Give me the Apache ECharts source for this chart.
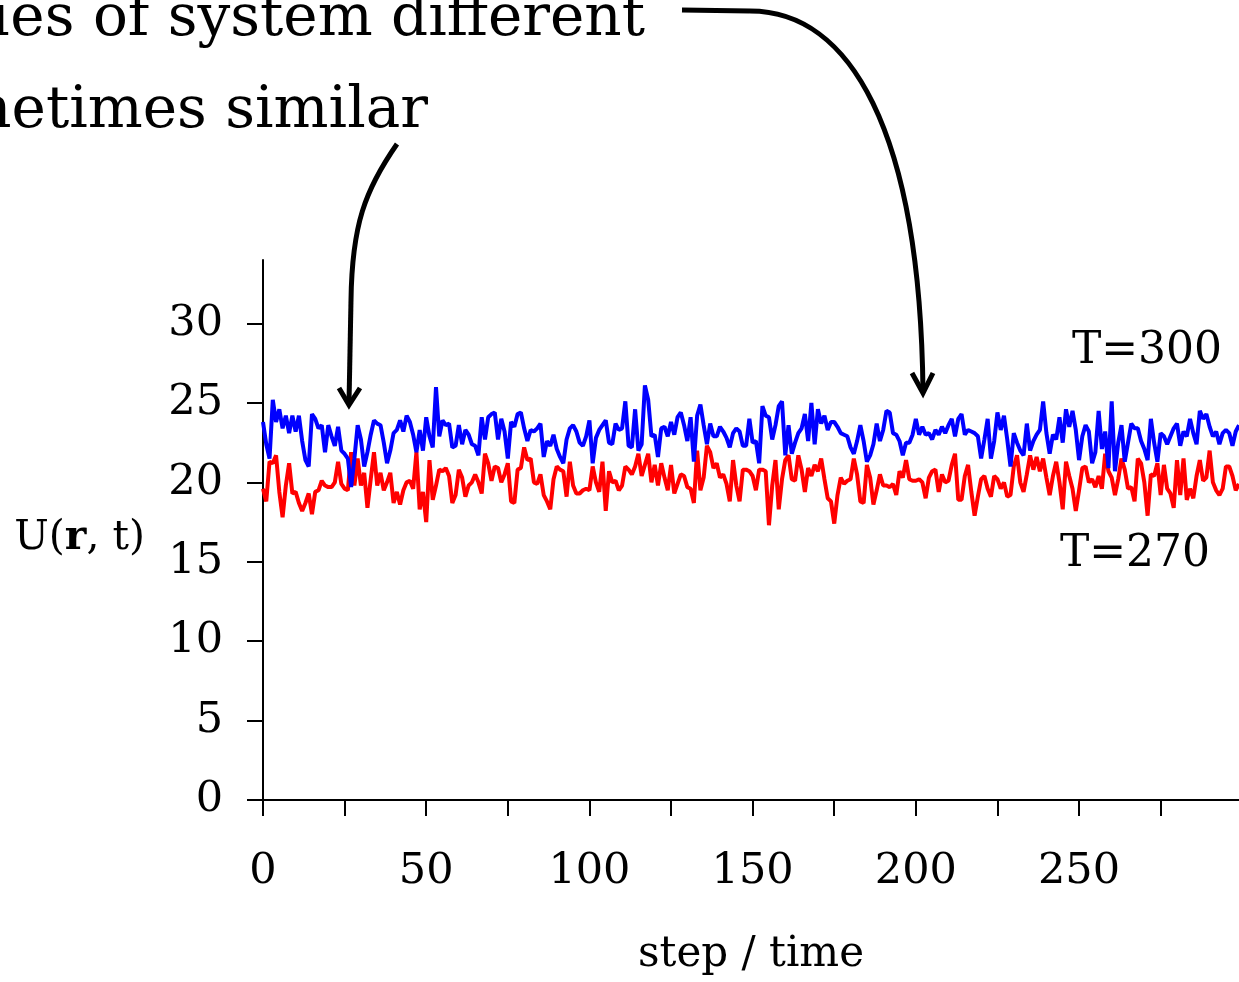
<!DOCTYPE html>
<html lang="en">
<head>
    <meta charset="UTF-8">
    <title>U(r, t)</title>
    <script src="https://cdn.jsdelivr.net/npm/echarts@6/dist/echarts.min.js"></script>
</head>
<style>
    *{
        margin: 0;
        padding: 0;
    }
    html,body{
        width: 100%;
        height: 100%;
        overflow: hidden;
        background: #fff;
    }
    .container{
        width: 1239px;
        height: 982px;
    }
</style>
<body>
<div class="container"></div>
<script>
    // U(r, t) per step
    let u300 = [
        23.8, 22.4, 21.5, 25.2, 23.8, 24.6, 23.4, 24.2, 23.1, 24.2, 23.2, 24.2, 22.6, 21.4, 21.0, 24.3, 24.0, 23.4, 23.6, 21.9,
        23.6, 22.9, 22.3, 23.5, 22.0, 21.8, 21.5, 19.7, 21.5, 23.6, 22.7, 21.0, 21.9, 23.0, 23.9, 23.7, 23.6, 22.5, 21.2, 22.0,
        23.1, 23.3, 23.9, 23.2, 24.2, 23.8, 23.0, 21.9, 23.3, 22.0, 24.1,
        22.9, 22.2, 26.0, 22.9, 23.9, 23.6, 23.7, 22.2, 22.3, 23.6, 22.4, 23.3, 23.0, 22.4, 22.3, 21.7, 24.1, 22.7, 24.1, 24.3,
        24.4, 22.7, 24.0, 23.2, 21.5, 23.8, 23.5, 24.3, 24.4, 23.4, 22.6, 23.3, 23.2, 23.4, 23.7, 21.6, 22.6, 22.3, 23.0, 22.1,
        21.6, 21.2, 22.7, 23.4, 23.6, 23.2, 22.5, 22.3, 22.9, 23.9,
        21.2, 22.8, 23.3, 23.6, 23.9, 22.5, 22.4, 23.7, 23.3, 23.4, 25.1, 22.3, 22.2, 24.6, 22.0, 22.4, 26.1, 25.2, 22.9, 23.0,
        21.6, 23.4, 23.5, 22.9, 23.8, 23.0, 24.1, 24.4, 23.6, 22.6, 24.1, 21.3, 24.2, 24.9, 23.6, 22.4, 23.7, 22.9, 22.9, 23.5,
        23.2, 22.8, 22.2, 23.1, 23.4, 23.2, 22.3, 22.3, 24.0, 22.5,
        22.6, 21.2, 24.8, 24.2, 24.1, 22.7, 23.6, 24.8, 25.1, 21.7, 23.6, 21.8, 22.5, 23.1, 23.4, 24.3, 22.6, 25.0, 22.4, 24.6,
        23.7, 24.2, 23.3, 23.8, 23.8, 23.5, 23.1, 23.0, 22.9, 22.2, 21.8, 22.6, 23.6, 22.6, 21.3, 21.7, 22.4, 23.7, 22.6, 23.3,
        24.5, 24.4, 23.1, 23.0, 22.6, 21.7, 22.5, 22.5, 23.0, 24.0,
        23.0, 23.5, 23.0, 23.1, 22.7, 23.3, 23.0, 23.5, 23.1, 23.6, 24.0, 22.9, 24.0, 24.3, 23.0, 23.3, 23.2, 23.1, 22.9, 21.5,
        22.7, 24.0, 21.5, 22.6, 24.4, 23.3, 24.2, 22.7, 21.0, 23.1, 22.5, 22.0, 21.7, 23.7, 22.0, 22.6, 23.0, 23.3, 25.1, 23.1,
        21.8, 23.0, 22.7, 24.1, 22.5, 24.6, 23.5, 24.5, 23.3,
        21.4, 22.9, 23.6, 23.2, 21.2, 21.9, 24.5, 22.1, 23.2, 20.9, 25.1, 20.7, 22.5, 23.6, 21.3, 22.5, 23.7, 23.4, 23.4, 22.6,
        22.1, 21.4, 24.0, 22.5, 21.3, 23.1, 22.9, 22.4, 22.9, 23.4, 23.7, 22.3, 23.2, 22.9, 24.0, 23.1, 22.4, 24.5, 24.0, 24.3,
        23.5, 22.9, 23.2, 22.4, 23.1, 23.3, 23.1, 22.3, 23.2, 23.6
    ];
    let u270 = [
        19.6, 18.8, 21.3, 21.2, 21.7, 19.4, 17.8, 19.8, 21.2, 19.3, 19.4, 18.7, 18.2, 18.7, 19.3, 18.0, 19.4, 19.5, 20.1, 19.8,
        19.7, 19.7, 20.0, 21.3, 19.9, 19.6, 19.5, 21.9, 19.8, 21.5, 19.8, 20.6, 18.4, 20.2, 21.9, 19.8, 20.6, 19.5, 20.0, 20.6,
        18.7, 19.4, 18.6, 19.5, 20.0, 20.1, 19.6, 21.9, 18.3, 19.4, 17.5,
        21.4, 18.9, 19.8, 20.8, 20.7, 20.9, 20.4, 18.7, 19.2, 20.8, 20.3, 19.1, 19.8, 20.0, 20.5, 20.0, 19.3, 21.8, 21.2, 20.1,
        21.0, 20.9, 20.0, 20.5, 21.2, 18.8, 18.7, 20.8, 20.9, 22.2, 21.4, 21.5, 20.0, 19.9, 20.5, 19.2, 18.8, 18.3, 20.2, 21.0,
        20.8, 20.7, 19.1, 21.3, 19.8, 19.3, 19.3, 19.5, 19.6, 19.5,
        21.0, 20.0, 19.4, 21.3, 18.2, 20.7, 20.0, 20.1, 19.5, 19.8, 21.0, 20.8, 20.5, 21.0, 21.8, 20.4, 21.1, 21.8, 20.0, 21.1,
        19.8, 21.2, 20.3, 19.5, 21.1, 19.3, 19.9, 20.5, 20.4, 19.7, 19.6, 18.7, 22.0, 19.5, 20.3, 22.3, 21.9, 20.9, 21.2, 20.3,
        20.5, 19.9, 18.8, 21.4, 19.8, 18.8, 20.8, 20.8, 20.7, 20.4,
        19.5, 20.8, 20.8, 20.7, 17.3, 19.8, 21.4, 18.3, 20.2, 21.4, 21.7, 20.2, 20.1, 21.7, 20.8, 19.4, 20.9, 20.4, 21.1, 20.7,
        21.5, 20.2, 19.0, 18.8, 17.4, 19.2, 20.3, 19.9, 20.1, 20.2, 21.5, 20.5, 18.8, 18.7, 21.1, 20.3, 18.6, 19.5, 20.5, 19.8,
        19.8, 19.7, 19.9, 19.2, 20.7, 20.3, 21.4, 20.2, 20.1, 20.1,
        20.2, 20.0, 19.0, 20.3, 20.7, 20.8, 19.4, 20.5, 20.0, 20.1, 21.1, 21.8, 18.9, 18.9, 20.4, 21.1, 19.4, 17.9, 19.1, 20.2,
        20.4, 19.6, 19.1, 20.4, 20.2, 19.6, 20.0, 19.1, 19.2, 21.0, 21.7, 20.0, 19.4, 20.5, 21.7, 20.8, 21.6, 20.7, 21.5, 20.3,
        19.2, 20.4, 21.3, 20.0, 18.3, 21.3, 20.4, 19.6, 18.2,
        19.5, 20.9, 21.0, 20.0, 20.2, 19.7, 20.4, 19.6, 21.8, 20.7, 20.3, 19.2, 20.2, 21.5, 20.8, 19.6, 19.7, 18.8, 21.5, 21.2,
        20.0, 17.9, 20.5, 20.4, 21.2, 19.2, 21.1, 19.6, 19.3, 18.4, 21.4, 19.2, 21.5, 18.9, 19.6, 19.0, 20.4, 21.4, 20.1, 20.3,
        22.0, 20.0, 19.5, 19.2, 19.6, 21.0, 21.0, 20.4, 19.5, 19.9
    ];
    let xTicks = [0, 25, 50, 75, 100, 125, 150, 175, 200, 225, 250, 275];
    let xLabels = [0, 50, 100, 150, 200, 250];
    let yTicks = [0, 5, 10, 15, 20, 25, 30];
    let seriesNames = ['T=300', 'T=270'];

    let font = 'DejaVu Serif';
    let container = document.querySelector('.container');
    let mychart = echarts.init(container);

    let toPairs = arr => arr.map((v, i) => [i, v]);

    option = {
        animation: false,
        backgroundColor: '#fff',
        grid: {
            left: 263,
            right: 0,
            top: 260,
            bottom: 182
        },
        xAxis: {
            type: 'value',
            min: 0,
            max: 299,
            name: 'step / time',
            nameLocation: 'middle',
            nameGap: 134,
            nameTextStyle: {fontFamily: font, fontSize: 42, color: '#000'},
            axisLine: {lineStyle: {color: '#000', width: 2}},
            axisTick: {customValues: xTicks, length: 16, lineStyle: {color: '#000', width: 2}},
            axisLabel: {customValues: xLabels, margin: 50, fontFamily: font, fontSize: 43, color: '#000'},
            splitLine: {show: false}
        },
        yAxis: {
            type: 'value',
            min: 0,
            max: 34,
            name: '{n|U(}{b|r}{n|, t)}',
            nameLocation: 'middle',
            nameRotate: 0,
            nameGap: 118,
            nameTextStyle: {
                padding: [16, 0, 0, 0],
                rich: {
                    n: {fontFamily: font, fontSize: 41, color: '#000'},
                    b: {fontFamily: font, fontSize: 41, fontWeight: 'bold', color: '#000'}
                }
            },
            axisLine: {show: true, lineStyle: {color: '#000', width: 2}},
            axisTick: {show: true, customValues: yTicks, length: 16, lineStyle: {color: '#000', width: 2}},
            axisLabel: {customValues: yTicks, margin: 40, fontFamily: font, fontSize: 43, color: '#000'},
            splitLine: {show: false}
        },
        series: [
            {
                name: seriesNames[1],
                type: 'line',
                data: toPairs(u270),
                showSymbol: false,
                lineStyle: {color: '#ff0000', width: 4},
                itemStyle: {color: '#ff0000'}
            },
            {
                name: seriesNames[0],
                type: 'line',
                data: toPairs(u300),
                showSymbol: false,
                lineStyle: {color: '#0000ff', width: 4},
                itemStyle: {color: '#0000ff'}
            }
        ],
        graphic: [
            // annotation text, cut off on the left like the original
            {type: 'text', x: 645, y: 20, style: {text: 'ues of system different', font: '58px "DejaVu Serif"', fill: '#000', align: 'right', verticalAlign: 'middle'}},
            {type: 'text', x: 428, y: 112, style: {text: 'metimes similar', font: '58px "DejaVu Serif"', fill: '#000', align: 'right', verticalAlign: 'middle'}},
            {type: 'text', x: 1147, y: 352, style: {text: seriesNames[0], font: '44px "DejaVu Serif"', fill: '#000', align: 'center', verticalAlign: 'middle'}},
            {type: 'text', x: 1135, y: 555, style: {text: seriesNames[1], font: '44px "DejaVu Serif"', fill: '#000', align: 'center', verticalAlign: 'middle'}},
            // left arrow
            {type: 'bezierCurve', shape: {x1: 397, y1: 144, cpx1: 365, cpy1: 190, cpx2: 352, cpy2: 225, x2: 351, y2: 300},
                style: {stroke: '#000', lineWidth: 5, fill: null}},
            {type: 'line', shape: {x1: 351, y1: 300, x2: 349, y2: 403}, style: {stroke: '#000', lineWidth: 5}},
            {type: 'polyline', shape: {points: [[339, 388], [349, 405], [360, 388]]}, style: {stroke: '#000', lineWidth: 5, fill: null}},
            // right arrow
            {type: 'line', shape: {x1: 682, y1: 10, x2: 750, y2: 11}, style: {stroke: '#000', lineWidth: 5}},
            {type: 'bezierCurve', shape: {x1: 750, y1: 11, cpx1: 850, cpy1: 11, cpx2: 920, cpy2: 130, x2: 923, y2: 391},
                style: {stroke: '#000', lineWidth: 5, fill: null}},
            {type: 'polyline', shape: {points: [[912, 373], [923, 393], [933, 373]]}, style: {stroke: '#000', lineWidth: 5, fill: null}}
        ]
    };

    mychart.setOption(option);
</script>
</body>
</html>
